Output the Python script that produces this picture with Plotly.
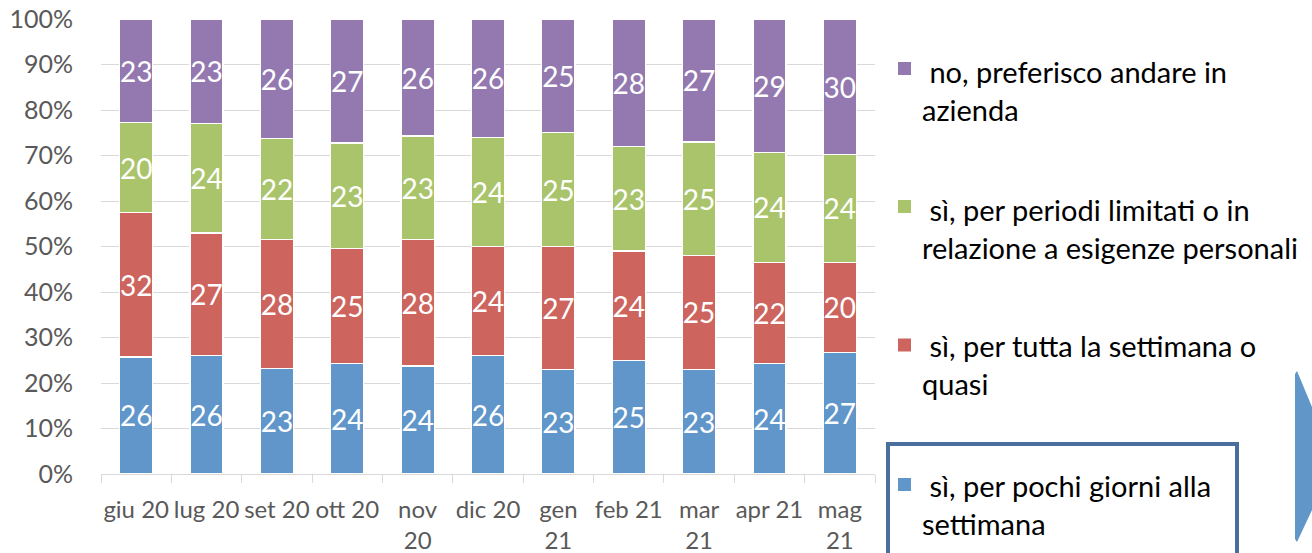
import plotly.graph_objects as go

# Survey months (x categories); long labels wrap onto two lines
months = ["giu 20", "lug 20", "set 20", "ott 20", "nov<br>20", "dic 20",
          "gen<br>21", "feb 21", "mar<br>21", "apr 21", "mag<br>21"]

# Answer shares per month (stacked and normalised to 100%)
pochi_giorni = [26, 26, 23, 24, 24, 26, 23, 25, 23, 24, 27]
tutta_settimana = [32, 27, 28, 25, 28, 24, 27, 24, 25, 22, 20]
periodi_limitati = [20, 24, 22, 23, 23, 24, 25, 23, 25, 24, 24]
preferisco_azienda = [23, 23, 26, 27, 26, 26, 25, 28, 27, 29, 30]

series = [
    ("sì, per pochi giorni alla settimana", pochi_giorni, "#6096CA"),
    ("sì, per tutta la settimana o quasi", tutta_settimana, "#CD655E"),
    ("sì, per periodi limitati o in relazione a esigenze personali", periodi_limitati, "#AAC46C"),
    ("no, preferisco andare in azienda", preferisco_azienda, "#9479B1"),
]

W, H = 1312, 553
L, R, T, B = 101, 437, 19, 79
PW, PH = W - L - R, H - T - B


def px(x):
    return (x - L) / PW


def py(y):
    return (H - B - y) / PH


FONT = "Lato, 'Open Sans', sans-serif"

fig = go.Figure()
for name, vals, color in series:
    fig.add_trace(go.Bar(
        x=months, y=vals, name=name,
        marker=dict(color=color, line=dict(color="white", width=1.3)),
        width=0.47,
        text=[str(v) for v in vals], texttemplate="%{text}",
        textposition="inside", insidetextanchor="middle", textangle=0,
        constraintext="none",
        textfont=dict(family=FONT, size=28, color="white"),
        showlegend=False,
    ))

fig.update_layout(
    width=W, height=H,
    barmode="stack", barnorm="percent",
    margin=dict(l=L, r=R, t=T, b=B),
    paper_bgcolor="white", plot_bgcolor="white",
    font=dict(family=FONT, color="#595959"),
    xaxis=dict(
        type="category", showline=True, linecolor="#D9D9D9", linewidth=1.3,
        ticks="outside", tickson="boundaries", ticklen=8, tickcolor="#D9D9D9",
        tickwidth=1.3, tickangle=0, automargin=False,
        ticklabelstandoff=14,
        tickfont=dict(family=FONT, size=24, color="#595959"),
        showgrid=False,
    ),
    yaxis=dict(
        range=[0, 100], dtick=10, ticksuffix="%", automargin=False,
        showgrid=True, gridcolor="#D9D9D9", gridwidth=1.3,
        zeroline=False, showline=False, ticks="",
        ticklabelstandoff=27,
        tickfont=dict(family=FONT, size=25, color="#595959"),
    ),
)

# Legend, drawn at the right of the plot (top to bottom: last series first)
legend_items = [
    (" no, preferisco andare in<br>azienda", "#9479B1", 68.5, 90),
    (" sì, per periodi limitati o in<br>relazione a esigenze personali", "#AAC46C", 206.5, 228.5),
    (" sì, per tutta la settimana o<br>quasi", "#CD655E", 345, 364),
    (" sì, per pochi giorni alla<br>settimana", "#6096CA", 484.5, 504),
]
for text, color, my, ty in legend_items:
    fig.add_shape(type="rect", xref="paper", yref="paper",
                  x0=px(898), x1=px(911), y0=py(my - 6.5), y1=py(my + 6.5),
                  fillcolor=color, line=dict(width=0))
    fig.add_annotation(xref="paper", yref="paper", x=px(920), y=py(ty),
                       xanchor="left", yanchor="middle", align="left",
                       text=text.replace(" ", "\u00a0", 1), showarrow=False,
                       font=dict(family=FONT, size=29, color="#000000"))

# Highlight frame around the last legend entry
fig.add_shape(type="rect", xref="paper", yref="paper",
              x0=px(888), x1=px(1237), y0=py(444), y1=py(565),
              line=dict(color="#4A6F9C", width=4), fillcolor="rgba(0,0,0,0)")

# Blue arrow tab at the right edge
pts = [(1295, 374), (1297, 371), (1312, 407), (1312, 510), (1297, 542), (1295, 539)]
path = "M " + " L ".join(f"{px(x):.5f},{py(y):.5f}" for x, y in pts) + " Z"
fig.add_shape(type="path", xref="paper", yref="paper", path=path,
              fillcolor="#6096C8", line=dict(width=0))

fig.write_html("out.html")
